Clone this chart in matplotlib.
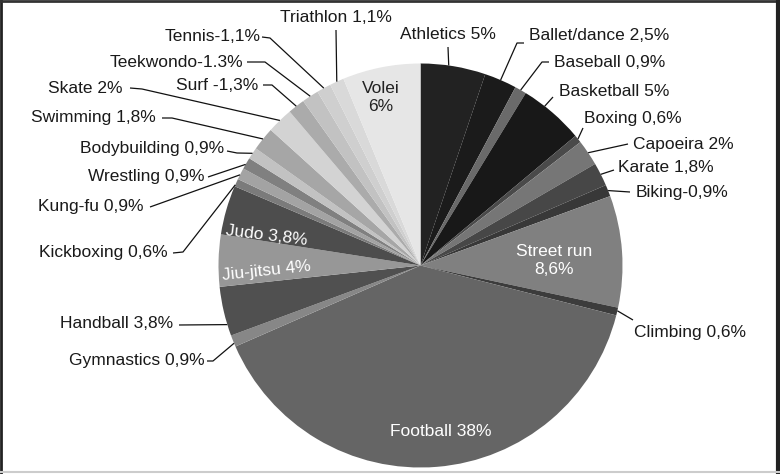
import numpy as np
import matplotlib
matplotlib.use("Agg")
import matplotlib.pyplot as plt
from matplotlib.lines import Line2D

plt.rcParams['font.family'] = ['Liberation Sans', 'DejaVu Sans']

# slices, clockwise from 12 o'clock
sports = ['Athletics', 'Ballet/dance', 'Baseball', 'Basketball', 'Boxing', 'Capoeira',
          'Karate', 'Biking', 'Street run', 'Climbing', 'Football', 'Gymnastics',
          'Handball', 'Jiu-jitsu', 'Judo', 'Kickboxing', 'Kung-fu', 'Wrestling',
          'Bodybuilding', 'Swimming', 'Skate', 'Surf', 'Teekwondo', 'Tennis',
          'Triathlon', 'Volei']
shares = [5, 2.5, 0.9, 5, 0.6, 2, 1.8, 0.9, 8.6, 0.6, 38, 0.9, 3.8, 4, 3.8, 0.6,
          0.9, 0.9, 0.9, 1.8, 2, 1.3, 1.3, 1.1, 1.1, 6]
texts = ['Athletics 5%', 'Ballet/dance 2,5%', 'Baseball 0,9%', 'Basketball 5%',
         'Boxing 0,6%', 'Capoeira 2%', 'Karate 1,8%', 'Biking-0,9%', 'Street run\n8,6%',
         'Climbing 0,6%', 'Football 38%', 'Gymnastics 0,9%', 'Handball 3,8%',
         'Jiu-jitsu 4%', 'Judo 3,8%', 'Kickboxing 0,6%', 'Kung-fu 0,9%',
         'Wrestling 0,9%', 'Bodybuilding 0,9%', 'Swimming 1,8%', 'Skate 2%',
         'Surf -1,3%', 'Teekwondo-1.3%', 'Tennis-1,1%', 'Triathlon 1,1%', 'Volei\n6%']
shades = ['#222222', '#1b1b1b', '#6a6a6a', '#181818', '#4a4a4a', '#767676',
          '#474747', '#383838', '#808080', '#3c3c3c', '#656565', '#878787',
          '#505050', '#979797', '#4d4d4d', '#7b7b7b', '#a3a3a3', '#808080',
          '#c2c2c2', '#a6a6a6', '#d3d3d3', '#ababab', '#c2c2c2', '#cfcfcf',
          '#d9d9d9', '#e6e6e6']

W, H = 780, 474
cx, cy, R = 420.5, 265.5, 202

fig = plt.figure(figsize=(W / 100, H / 100), dpi=100)
ax = fig.add_axes([0, 0, 1, 1])
# y axis is flipped so layout can be given in pixel rows
wedges, _ = ax.pie(shares, colors=shades, startangle=-90, counterclock=True,
                   center=(cx, cy), radius=R, wedgeprops=dict(linewidth=0))
ax.set_xlim(0, W)
ax.set_ylim(H, 0)
ax.set_aspect('equal', adjustable='datalim')
ax.axis('off')

# outside labels: text anchor, alignment, bend points, position along wedge
outside = {
    'Triathlon': ((336, 17), 'center', [(336, 30)], 0.5),
    'Athletics': ((448, 34), 'center', [(448, 47)], 0.43),
    'Ballet/dance': ((529, 35), 'left', [(517, 43), (524, 43)], 0.5),
    'Baseball': ((554, 62), 'left', [(542, 62), (549, 62)], 0.5),
    'Basketball': ((559, 91), 'left', [(553, 97)], 0.35),
    'Boxing': ((584, 118), 'left', [(583, 128)], 0.5),
    'Capoeira': ((633, 144), 'left', [(628, 144)], 0.5),
    'Karate': ((618, 168), 'left', [(614, 170)], 0.5),
    'Biking': ((636, 192), 'left', [(630, 192)], 0.5),
    'Climbing': ((634, 333), 'left', [(633, 320)], 0.4),
    'Gymnastics': ((205, 360), 'right', [(213, 361), (207, 361)], 0.3),
    'Handball': ((173, 324), 'right', [(179, 325)], 0.23),
    'Kickboxing': ((168, 253), 'right', [(183, 252), (173, 253)], 0.2),
    'Kung-fu': ((143, 207), 'right', [(150, 207)], 0.4),
    'Wrestling': ((204, 176), 'right', [(208, 177)], 0.4),
    'Bodybuilding': ((224, 149), 'right', [(237, 153), (227, 151)], 0.5),
    'Swimming': ((156, 117), 'right', [(172, 118), (162, 118)], 0.5),
    'Skate': ((123, 88), 'right', [(142, 89), (130, 88)], 0.5),
    'Surf': ((258, 85), 'right', [(272, 85), (263, 85)], 0.5),
    'Teekwondo': ((243, 62), 'right', [(265, 62), (247, 62)], 0.5),
    'Tennis': ((261, 36), 'right', [(270, 38), (262, 37)], 0.5),
}

# inside labels: position, colour, rotation
inside = {
    'Volei': ((381, 97), '#222222', 0),
    'Street run': ((554, 261), 'white', 0),
    'Football': ((441, 431), 'white', 0),
    'Judo': ((267, 236), 'white', -7),
    'Jiu-jitsu': ((266, 271), 'white', 6),
}

fs = 12.5
for w, name, txt in zip(wedges, sports, texts):
    if name in outside:
        (tx, ty), ha, bends, frac = outside[name]
        ang = np.deg2rad(w.theta1 + frac * (w.theta2 - w.theta1))
        px, py = cx + R * np.cos(ang), cy + R * np.sin(ang)
        xs = [px] + [b[0] for b in bends]
        ys = [py] + [b[1] for b in bends]
        ax.plot(xs, ys, color='#111111', lw=0.9, solid_capstyle='butt')
        ax.text(tx, ty, txt, ha=ha, va='center', fontsize=fs, color='#1a1a1a')
    elif name in inside:
        (tx, ty), col, rot = inside[name]
        ax.text(tx, ty, txt, ha='center', va='center', fontsize=fs, color=col,
                rotation=rot, linespacing=1.25, rotation_mode='anchor')

# frame around the picture
fig.add_artist(Line2D([0.001, 0.001], [0, 1], transform=fig.transFigure, color='#222222', lw=2))
fig.add_artist(Line2D([0, 1], [0.998, 0.998], transform=fig.transFigure, color='#333333', lw=2))
fig.add_artist(Line2D([0.997, 0.997], [0, 1], transform=fig.transFigure, color='#222222', lw=3))
fig.add_artist(Line2D([0, 1], [0.004, 0.004], transform=fig.transFigure, color='#cccccc', lw=1.5))

fig.savefig('out.png', dpi=100)
